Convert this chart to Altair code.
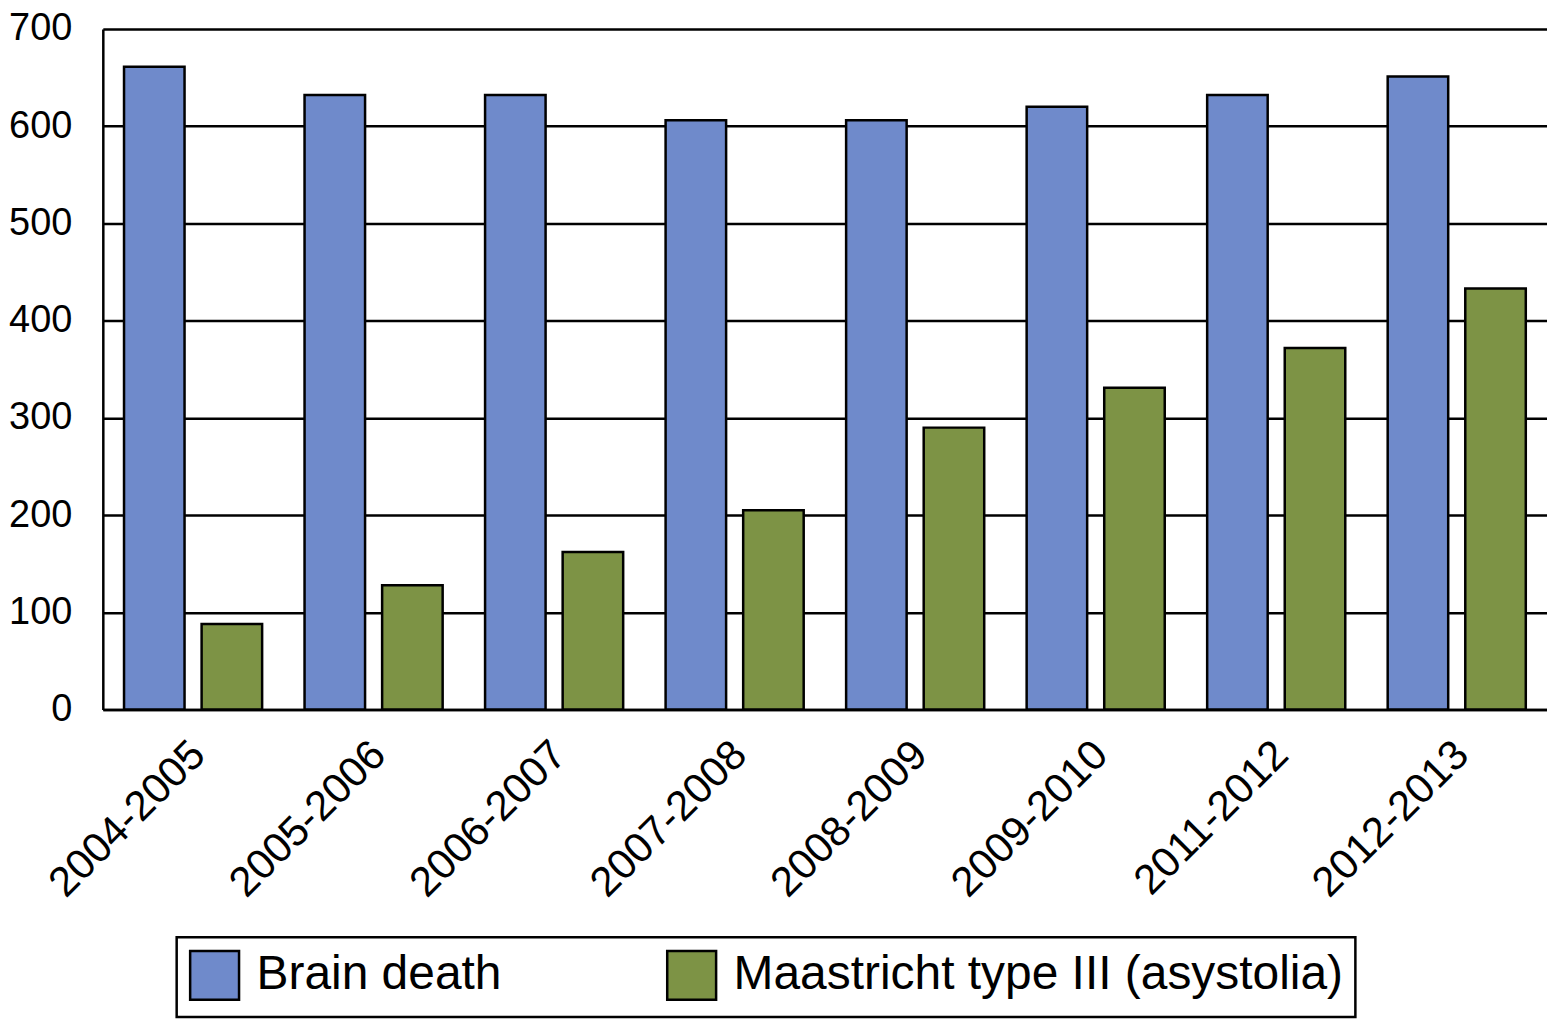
import altair as alt
import pandas as pd

periods = ["2004-2005", "2005-2006", "2006-2007", "2007-2008",
           "2008-2009", "2009-2010", "2011-2012", "2012-2013"]
series_names = ["Brain death", "Maastricht type III (asystolia)"]
brain_death = [661, 632, 632, 606, 606, 620, 632, 651]
maastricht = [88, 128, 162, 205, 290, 331, 372, 433]
colors = ["#6F8ACB", "#7D9345"]
y_ticks = [0, 100, 200, 300, 400, 500, 600, 700]

rows = []
for p, b, m in zip(periods, brain_death, maastricht):
    rows.append({"period": p, "series": series_names[0], "value": b})
    rows.append({"period": p, "series": series_names[1], "value": m})
df = pd.DataFrame(rows)

FONT = "Liberation Sans"

chart = alt.Chart(df).mark_bar(stroke="black", strokeWidth=2.5).encode(
    x=alt.X("period:N", sort=periods,
            scale=alt.Scale(paddingInner=0.235, paddingOuter=0.1175),
            axis=alt.Axis(title=None, labelAngle=-45, labelFontSize=42,
                          labelFont=FONT, labelColor="black", labelPadding=24,
                          labelOffset=-9, labelLimit=500, labelOverlap=False,
                          ticks=False, domainColor="black", domainWidth=2.5,
                          labelAlign="right", labelBaseline="top")),
    xOffset=alt.XOffset("series:N", sort=series_names,
                        scale=alt.Scale(paddingInner=0.22, paddingOuter=0)),
    y=alt.Y("value:Q",
            scale=alt.Scale(domain=[0, 700], nice=False),
            axis=alt.Axis(title=None, values=y_ticks, grid=True, gridColor="black",
                          gridWidth=2.5, gridOpacity=1, ticks=False,
                          labelFontSize=38, labelFont=FONT, labelColor="black",
                          labelPadding=31, domainColor="black", domainWidth=2.5)),
    color=alt.Color("series:N", sort=series_names,
                    scale=alt.Scale(domain=series_names, range=colors),
                    legend=alt.Legend(title=None, orient="none", legendX=74, legendY=910,
                                      direction="horizontal", symbolType="square",
                                      symbolSize=2400, symbolStrokeColor="black",
                                      symbolStrokeWidth=2.5, symbolOpacity=1,
                                      labelFontSize=48, labelFont=FONT, labelColor="black",
                                      labelOffset=16, labelLimit=1000, columnPadding=160,
                                      strokeColor="black", fillColor="white", padding=12)),
).properties(
    width=1447, height=682,
    autosize=alt.AutoSizeParams(type="none"),
    padding={"left": 95, "top": 20, "right": 0, "bottom": 311},
).configure_view(stroke=None).configure_legend(strokeWidth=2.5)

chart.save("out.html", embed_options={"renderer": "svg", "actions": False})
